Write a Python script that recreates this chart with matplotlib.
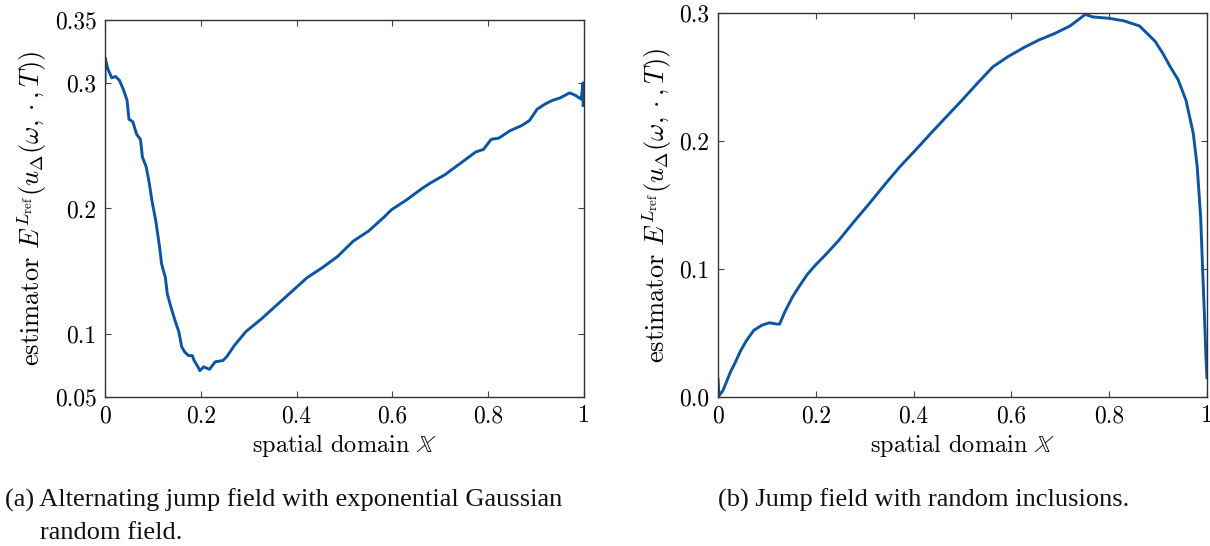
import matplotlib
matplotlib.use('Agg')
import matplotlib.pyplot as plt

plt.rcParams['font.family'] = 'serif'
plt.rcParams['font.serif'] = ['cmr10', 'DejaVu Serif']
plt.rcParams['mathtext.fontset'] = 'cm'
plt.rcParams['axes.unicode_minus'] = False

# (a) alternating jump field
x_a = [0.0, 0.0, 0.006, 0.014, 0.022, 0.030, 0.038, 0.046, 0.050, 0.058, 0.066,
       0.074, 0.078, 0.086, 0.092, 0.098, 0.106, 0.114, 0.118, 0.126, 0.130,
       0.138, 0.146, 0.154, 0.160, 0.166, 0.174, 0.182, 0.186, 0.194, 0.198,
       0.206, 0.218, 0.230, 0.246, 0.254, 0.270, 0.294, 0.326, 0.358, 0.390,
       0.422, 0.454, 0.486, 0.518, 0.550, 0.582, 0.598, 0.630, 0.662, 0.678,
       0.710, 0.742, 0.774, 0.790, 0.806, 0.822, 0.846, 0.870, 0.886, 0.902,
       0.918, 0.934, 0.950, 0.970, 0.982, 0.994, 0.998, 0.998]
y_a = [0.300, 0.320, 0.311, 0.304, 0.305, 0.302, 0.295, 0.286, 0.271, 0.269, 0.259,
       0.255, 0.241, 0.233, 0.221, 0.206, 0.190, 0.169, 0.156, 0.145, 0.132,
       0.121, 0.111, 0.102, 0.090, 0.086, 0.083, 0.083, 0.079, 0.074, 0.071,
       0.074, 0.072, 0.078, 0.079, 0.082, 0.091, 0.102, 0.112, 0.123, 0.134,
       0.145, 0.153, 0.162, 0.174, 0.182, 0.193, 0.199, 0.207, 0.216, 0.220,
       0.227, 0.236, 0.245, 0.247, 0.255, 0.256, 0.262, 0.266, 0.270, 0.279,
       0.283, 0.286, 0.288, 0.292, 0.290, 0.287, 0.300, 0.282]

# (b) jump field with random inclusions
x_b = [0.0, 0.002, 0.010, 0.018, 0.026, 0.034, 0.046, 0.058, 0.073, 0.089,
       0.105, 0.121, 0.126, 0.136, 0.152, 0.167, 0.183, 0.199, 0.222, 0.246,
       0.278, 0.309, 0.341, 0.372, 0.404, 0.435, 0.467, 0.499, 0.530, 0.562,
       0.593, 0.625, 0.656, 0.688, 0.720, 0.751, 0.767, 0.799, 0.830, 0.862,
       0.878, 0.894, 0.909, 0.925, 0.941, 0.957, 0.972, 0.980, 0.987, 0.991,
       0.995, 0.998, 1.0]
y_b = [0.014, 0.001, 0.005, 0.0125, 0.020, 0.026, 0.036, 0.044, 0.052, 0.056,
       0.058, 0.057, 0.057, 0.066, 0.078, 0.087, 0.096, 0.103, 0.112, 0.122,
       0.137, 0.151, 0.166, 0.180, 0.193, 0.206, 0.219, 0.232, 0.245, 0.258,
       0.266, 0.273, 0.279, 0.284, 0.290, 0.299, 0.297, 0.296, 0.294, 0.290,
       0.284, 0.278, 0.269, 0.258, 0.248, 0.232, 0.206, 0.180, 0.141, 0.101,
       0.062, 0.030, 0.015]

xticks = [0, 0.2, 0.4, 0.6, 0.8, 1]
xticklabels = ['0', '0.2', '0.4', '0.6', '0.8', '1']
yticks_a = [0.05, 0.1, 0.2, 0.3, 0.35]
yticklabels_a = ['0.05', '0.1', '0.2', '0.3', '0.35']
yticks_b = [0.0, 0.1, 0.2, 0.3]
yticklabels_b = ['0.0', '0.1', '0.2', '0.3']

line_color = '#0b55a3'
ylabel = r'estimator $E^{L_{\mathrm{ref}}}\left(u_\Delta(\omega,\cdot,T)\right)$'
xlabel = r'spatial domain $\mathbb{X}$'

fig = plt.figure(figsize=(12.1, 5.46), dpi=100)
ax1 = fig.add_axes([0.0868, 0.2729, 0.3959, 0.6905])
ax2 = fig.add_axes([0.5934, 0.2729, 0.4041, 0.7030])


def style(ax, yticks, yticklabels, ylim):
    ax.set_xlim(0, 1)
    ax.set_ylim(*ylim)
    ax.set_xticks(xticks)
    ax.set_xticklabels(xticklabels)
    ax.set_yticks(yticks)
    ax.set_yticklabels(yticklabels)
    ax.tick_params(direction='in', top=True, right=True, labelsize=17,
                   length=4, width=0.8, color='#444444', pad=6)
    for s in ax.spines.values():
        s.set_linewidth(1.0)
        s.set_color('#333333')
    ax.set_xlabel(xlabel, fontsize=17.5, labelpad=3)
    ax.set_ylabel(ylabel, fontsize=19, labelpad=4)


ax1.plot(x_a, y_a, color=line_color, linewidth=2.1)
style(ax1, yticks_a, yticklabels_a, (0.05, 0.35))

ax2.plot(x_b, y_b, color=line_color, linewidth=2.1)
style(ax2, yticks_b, yticklabels_b, (0.0, 0.3))

cap = dict(fontsize=19, family='Liberation Serif', color='#111111')
fig.text(0.004, 0.073, '(a) Alternating jump field with exponential Gaussian', **cap)
fig.text(0.033, 0.012, 'random field.', **cap)
fig.text(0.593, 0.073, '(b) Jump field with random inclusions.', **cap)

fig.savefig('out.png', dpi=100)
